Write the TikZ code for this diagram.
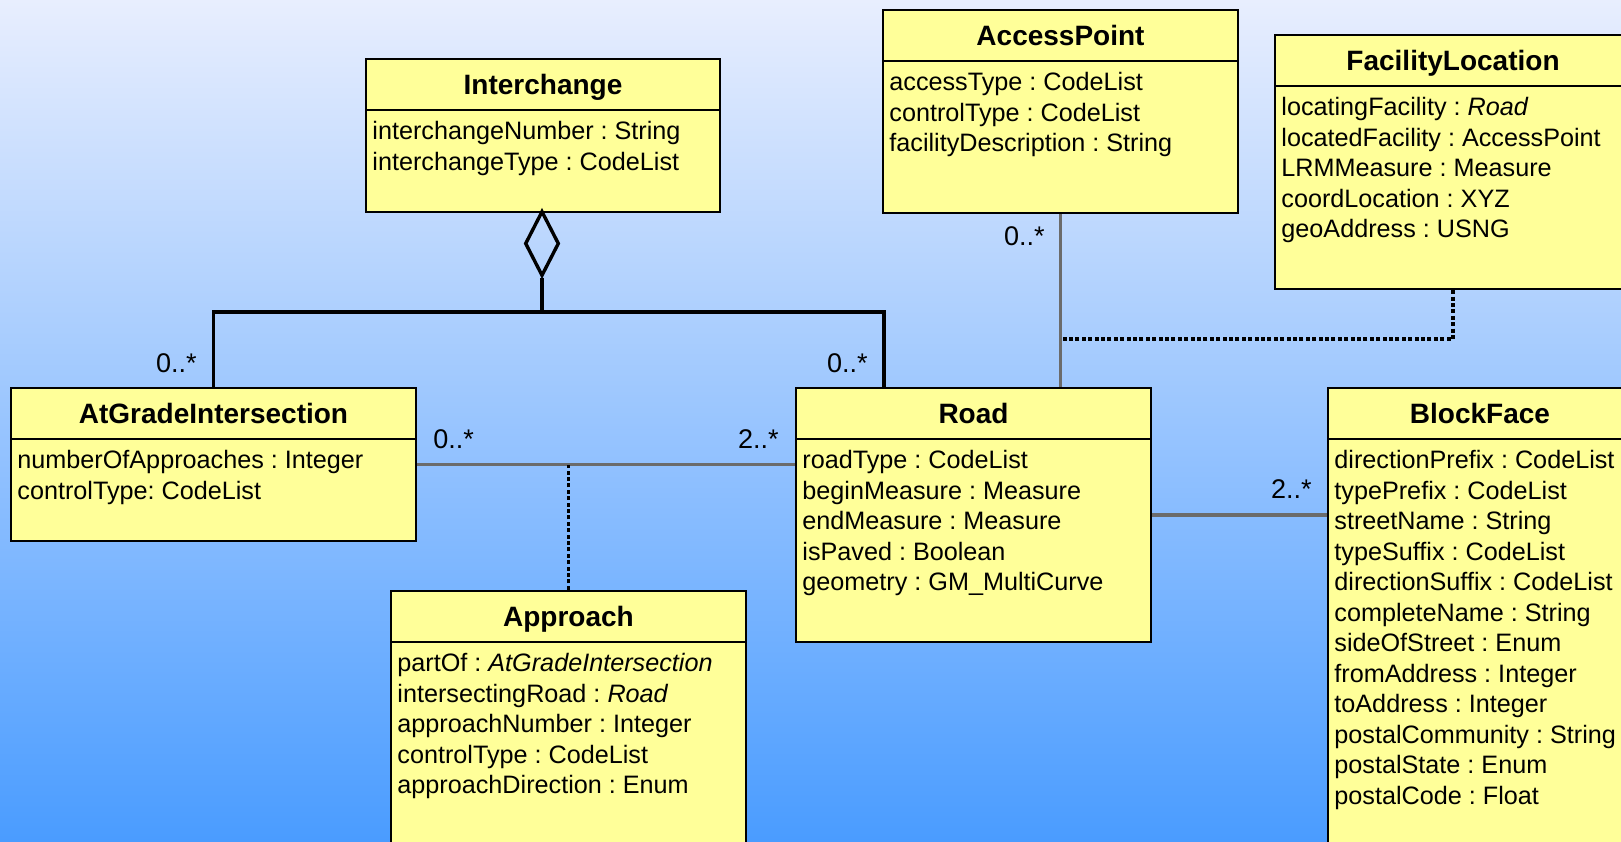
\documentclass[tikz,border=0pt]{standalone}
\usepackage{fontspec}
\setmainfont{Liberation Sans}
\usetikzlibrary{fit,shapes.geometric}
\definecolor{bgtop}{HTML}{E8EEFE}
\definecolor{bgbot}{HTML}{4A9CFF}
\definecolor{boxfill}{HTML}{FFFF99}
\definecolor{assoc}{HTML}{6B6B6B}
\tikzset{
 classbox/.style={draw=black, fill=boxfill, line width=1.2pt, inner sep=0pt},
 titletext/.style={font=\fontsize{14}{16}\selectfont\bfseries, inner sep=0pt, anchor=base},
 attrtext/.style={font=\fontsize{12.6}{15}\selectfont, inner sep=0pt, anchor=base west},
 multtext/.style={font=\fontsize{13.5}{15}\selectfont, inner sep=0pt, anchor=base east},
 multtextl/.style={font=\fontsize{13.5}{15}\selectfont, inner sep=0pt, anchor=base west},
 aggline/.style={line width=1.7pt, draw=black},
 assocline/.style={line width=1.8pt, draw=assoc},
 dotline/.style={line width=1.7pt, draw=black, dash pattern=on 2pt off 1.2pt},
}
\newcommand\umlclass[8]{%
  \node[classbox, fit={(#2,#3) (#4,#5)}] (#1) {};
  \draw[line width=1.2pt] (#2,#6) -- (#4,#6);
  \node[titletext] (#1-title) at ({(#2+#4)/2},{(#3+#6)/2+10}) {#7};
  \foreach \t [count=\i] in {#8} \node[attrtext] (#1-a\i) at ({#2+6},{#6+29.5+(\i-1)*30.5}) {\t};
}
\frenchspacing
\begin{document}
\begin{tikzpicture}[x=0.5pt,y=-0.5pt]
\useasboundingbox (0,0) rectangle (1621,841);
\clip (0,0) rectangle (1621,841);
\shade[top color=bgtop, bottom color=bgbot] (0,0) rectangle (1621,841);

\coordinate (aggj) at (542,312);
\coordinate (apmid) at (1062,339);

\umlclass{interchange}{366}{59}{720}{212}{110}{Interchange}{interchangeNumber : String,interchangeType : CodeList}
\umlclass{access}{883}{10}{1238}{213}{61}{AccessPoint}{accessType : CodeList,controlType : CodeList,facilityDescription : String}
\umlclass{facility}{1275}{35}{1631}{289}{86}{FacilityLocation}{locatingFacility : \textit{Road},locatedFacility : AccessPoint,LRMMeasure : Measure,coordLocation : XYZ,geoAddress : USNG}
\umlclass{atgrade}{11}{388}{416}{541}{439}{AtGradeIntersection}{numberOfApproaches : Integer,controlType: CodeList}
\umlclass{road}{796}{388}{1151}{642}{439}{Road}{roadType : CodeList,beginMeasure : Measure,endMeasure : Measure,isPaved : Boolean,geometry : GM\_MultiCurve}
\umlclass{blockface}{1328}{388}{1632}{870}{439}{BlockFace}{directionPrefix : CodeList,typePrefix : CodeList,streetName : String,typeSuffix : CodeList,directionSuffix : CodeList,completeName : String,sideOfStreet : Enum,fromAddress : Integer,toAddress : Integer,postalCommunity : String,postalState : Enum,postalCode : Float}
\umlclass{approach}{391}{591}{746}{870}{642}{Approach}{partOf : \textit{AtGradeIntersection},intersectingRoad : \textit{Road},approachNumber : Integer,controlType : CodeList,approachDirection : Enum}

% aggregation
\node[draw=black, line width=1.7pt, diamond, minimum width=17pt, minimum height=32.5pt, inner sep=0pt] (agg) at (542,243.5) {};
\draw[aggline] (agg.south) -- (aggj) -| (atgrade.north);
\draw[aggline] (aggj) -| ([xshift=44.5pt]road.north west);

% associations
\draw[assocline] (atgrade.east) -- (atgrade.east -| road.west);
\draw[dotline] (approach.north) -- (approach.north |- atgrade.east);
\draw[assocline] (access.south) -- (access.south |- road.north);
\draw[dotline] (facility.south) |- (apmid);
\draw[assocline] (road.east) -- (road.east -| blockface.west);

% multiplicities
\node[multtext] (m1) at (197,372) {0..*};
\node[multtext] (m2) at (868,372) {0..*};
\node[multtextl] (m3) at (433,448) {0..*};
\node[multtext] (m4) at (779,448) {2..*};
\node[multtext] (m5) at (1045,245) {0..*};
\node[multtext] (m6) at (1312,498) {2..*};
\end{tikzpicture}
\end{document}
